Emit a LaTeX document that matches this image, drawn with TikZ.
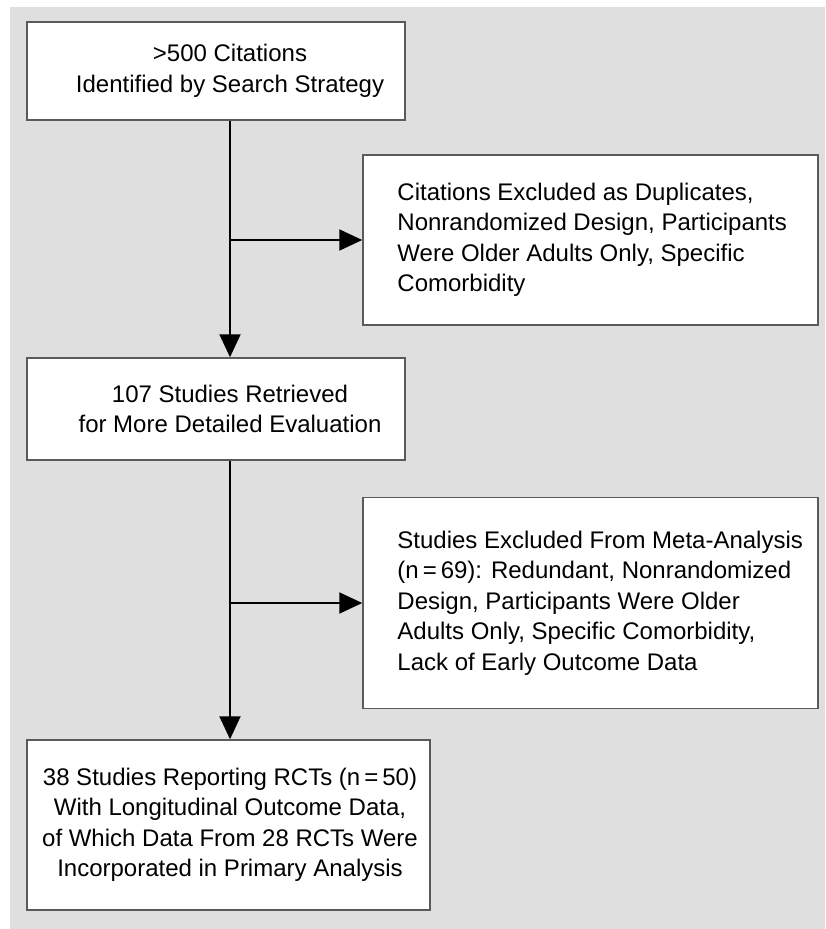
\documentclass[tikz,border=0pt]{standalone}
\usepackage{fontspec}
\setmainfont{Liberation Sans}
\usetikzlibrary{positioning,arrows.meta}
\definecolor{panel}{HTML}{DFDFDF}
\definecolor{frame}{HTML}{5A5A5A}

\begin{document}
\begin{tikzpicture}[x=1pt,y=-1pt,
  stage/.style={draw=frame,line width=1.5pt,fill=white,inner sep=0pt},
  words/.style={inner sep=0pt,font=\fontsize{24}{30.5}\selectfont},
  flow/.style={line width=2pt,-{Triangle[length=23pt,width=21pt]}}]
\useasboundingbox (0,0) rectangle (825,929);
\fill[panel] (10,7) rectangle (825,929);
\coordinate (trunk) at (230,0);
% boxes
\node[stage,minimum width=378pt,minimum height=98pt] (cites) at (216,71) {};
\node[stage,minimum width=455pt,minimum height=170pt] (dups) at (590.5,240) {};
\node[stage,minimum width=378pt,minimum height=102pt] (retrieved) at (216,409) {};
\node[stage,minimum width=455pt,minimum height=211pt] (excluded) at (590.5,603) {};
\node[stage,minimum width=403pt,minimum height=170pt] (included) at (228.5,825) {};
% texts
\node[words,align=center] (citestext) at (trunk |- cites.center)
  {>500 Citations\\Identified by Search Strategy};
\node[words,align=left,right=35pt of dups.west] (dupstext)
  {Citations Excluded as Duplicates,\\Nonrandomized Design, Participants\\Were Older Adults Only, Specific\\Comorbidity};
\node[words,align=center] (retrievedtext) at (trunk |- retrieved.center)
  {107 Studies Retrieved\\for More Detailed Evaluation};
\node[words,align=left,right=35pt of excluded.west] (excludedtext)
  {Studies Excluded From Meta-Analysis\\(n\,=\,69): Redundant, Nonrandomized\\Design, Participants Were Older\\Adults Only, Specific Comorbidity,\\Lack of Early Outcome Data};
\node[words,align=center] (includedtext) at (trunk |- included.center)
  {38 Studies Reporting RCTs (n\,=\,50)\\With Longitudinal Outcome Data,\\of Which Data From 28 RCTs Were\\Incorporated in Primary Analysis};
% arrows
\draw[flow] (trunk |- cites.south) -- (trunk |- retrieved.north);
\draw[flow] (trunk |- dups.west) -- (dups.west);
\draw[flow] (trunk |- retrieved.south) -- (trunk |- included.north);
\draw[flow] (trunk |- excluded.west) -- (excluded.west);
\end{tikzpicture}
\end{document}
